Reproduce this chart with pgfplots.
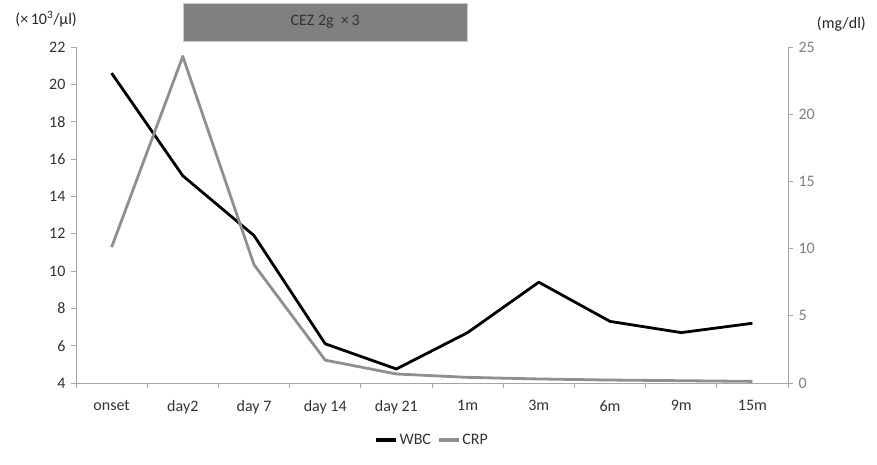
\documentclass[border=0pt]{standalone}
\usepackage{pgfplots}
\pgfplotsset{compat=1.18}
\usepackage{fontspec}
\setmainfont{Carlito}
\definecolor{axisgray}{HTML}{A6A6A6}
\definecolor{crpgray}{HTML}{8F8F8F}
\definecolor{txtdark}{HTML}{333333}
\definecolor{txtlight}{HTML}{808080}
\definecolor{boxgray}{HTML}{808080}
\begin{document}
\begin{tikzpicture}[x=1pt,y=1pt]
\path[use as bounding box] (0,0) rectangle (877,465);
\pgfplotsset{
  every axis/.append style={
    scale only axis, width=712pt, height=336pt,
    at={(76pt,82pt)}, anchor=south west,
    xmin=-0.5, xmax=9.5, clip=false,
    /pgf/number format/assume math mode=true,
    tick label style={font=\fontsize{16}{18}\selectfont},
    axis line style={axisgray, line width=0.8pt},
    tick style={axisgray, line width=0.8pt},
    tick align=outside,
  }
}
\begin{axis}[
  axis x line*=bottom, axis y line*=left,
  ymin=4, ymax=22, ytick={4,6,...,22},
  xtick={0,...,9},
  xticklabels={onset,day2,day 7,day 14,day 21,1m,3m,6m,9m,15m},
  major x tick style={draw=none},
  minor xtick={-0.5,0.5,...,9.5},
  minor tick length=5pt,
  major tick length=5pt,
  x tick label style={text=txtdark, yshift=-9pt},
  y tick label style={text=txtdark, xshift=-2pt},
  legend style={draw=none, at={(0.5,-0.17)}, anchor=center, legend columns=2,
    font=\fontsize{16}{18}\selectfont, text=txtdark, inner sep=1pt,
    /tikz/every even column/.append style={column sep=4pt}},
  legend image code/.code={\draw[#1, line width=3.4pt] (0pt,0pt) -- (20pt,0pt);},
]
\addplot[black, line width=2.8pt, line join=round] coordinates {
  (0,20.6) (1,15.1) (2,11.9) (3,6.1) (4,4.75) (5,6.7) (6,9.4) (7,7.3) (8,6.7) (9,7.2)};
\addlegendentry{WBC}
\addlegendimage{crpgray}
\addlegendentry{CRP}
\draw[draw=axisgray!60, fill=boxgray] (axis cs:1,22.32) rectangle (axis cs:5,24.36);
\node[text=black!80, font=\fontsize{16}{18}\selectfont] at (axis cs:3,23.34) {CEZ 2g\ \ ×\,3};
\node[text=black!85, font=\fontsize{16}{18}\selectfont, anchor=center] at (axis cs:-0.92,23.5) {(×\,10\textsuperscript{3}/μl)};
\end{axis}
\begin{axis}[
  axis x line=none, axis y line*=right,
  ymin=0, ymax=25, ytick={0,5,...,25},
  major tick length=5pt,
  y tick label style={text=txtlight, xshift=2pt},
]
\addplot[crpgray, line width=2.8pt, line join=round] coordinates {
  (0,10.1) (1,24.3) (2,8.8) (3,1.7) (4,0.67) (5,0.42) (6,0.3) (7,0.22) (8,0.17) (9,0.12)};
\node[text=black!85, font=\fontsize{16}{18}\selectfont] at (axis cs:10.25,26.7) {(mg/dl)};
\end{axis}
\end{tikzpicture}
\end{document}
